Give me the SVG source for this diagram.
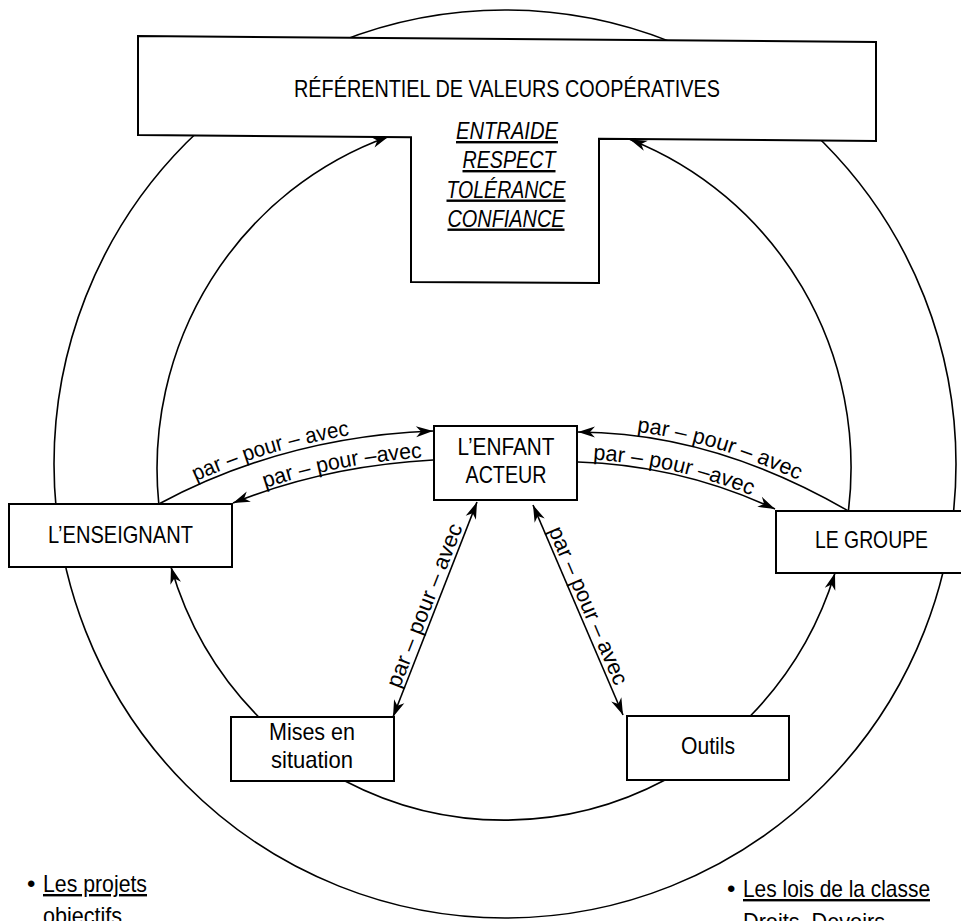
<svg xmlns="http://www.w3.org/2000/svg" width="961" height="921" viewBox="0 0 961 921">
<style>
.box{fill:#fff;stroke:#000;stroke-width:2}
.ring{fill:none;stroke:#000;stroke-width:1.6}
.con{fill:none;stroke:#000;stroke-width:1.6}
.arr{marker-end:url(#ah)}
.dbl{marker-start:url(#ah);marker-end:url(#ah)}
text{font-family:"Liberation Sans Narrow","Liberation Sans",Arial,sans-serif;fill:#000}
.lbl{font-size:22px}
.node{font-size:24px;text-anchor:middle}
.val{font-size:24px;font-style:italic;text-anchor:middle;text-decoration:underline}
.note{font-size:24px}
.ul{text-decoration:underline}
</style>
<defs>
<marker id="ah" markerUnits="userSpaceOnUse" markerWidth="20" markerHeight="14" viewBox="-18 -7 20 14" refX="0" refY="0" orient="auto-start-reverse">
<path d="M0,0 L-17,-5.5 L-12,0 L-17,5.5 Z" fill="#000"/>
</marker>
<path id="t-ll" d="M233,503 Q325,466 433,460"/>
<path id="t-ur" d="M578,432 Q713,432.5 848.4,511"/>
</defs>

<g id="rings">
<ellipse class="ring" cx="505" cy="464" rx="451" ry="454"/>
</g>

<g id="connectors">
<path id="c-ens-ref" class="con arr" d="M158.8,504 A347,352 0 0 1 388.7,136.5"/>
<path id="c-grp-ref" class="con arr" d="M848.4,511 A347,352 0 0 0 630,139.5"/>
<path id="c-mis-ens" class="con arr" d="M258.7,717 A347,352 0 0 1 171,567"/>
<path id="c-out-grp" class="con arr" d="M750.3,716 A347,352 0 0 0 835,573"/>
<path id="c-mis-out" class="con" d="M345,781 A347,352 0 0 0 665,780"/>
<path id="c-ens-enf" class="con arr" d="M158.8,504 Q284.5,436.5 433,431"/>
<path id="c-enf-ens" class="con arr" d="M433,460 Q325,466 233,503"/>
<path id="c-grp-enf" class="con arr" d="M848.4,511 Q713,432.5 578,432"/>
<path id="c-enf-grp" class="con arr" d="M578,462 Q680,465 775,509"/>
<path id="c-enf-mis" class="con dbl" d="M477,502 L393,717"/>
<path id="c-enf-out" class="con dbl" d="M533,505 L623,715"/>
<text class="lbl" dy="-4"><textPath href="#c-ens-enf" startOffset="43%" text-anchor="middle" textLength="160" lengthAdjust="spacingAndGlyphs">par – pour – avec</textPath></text>
<text class="lbl" dy="-3"><textPath href="#t-ll" startOffset="56%" text-anchor="middle" textLength="160" lengthAdjust="spacingAndGlyphs">par – pour –avec</textPath></text>
<text class="lbl" dy="-4"><textPath href="#t-ur" startOffset="50%" text-anchor="middle" textLength="168" lengthAdjust="spacingAndGlyphs">par – pour – avec</textPath></text>
<text class="lbl" dy="-3"><textPath href="#c-enf-grp" startOffset="47%" text-anchor="middle" textLength="162" lengthAdjust="spacingAndGlyphs">par – pour –avec</textPath></text>
<text class="lbl" transform="translate(435,609.5) rotate(-68.66)" x="0" y="-4" text-anchor="middle" textLength="174" lengthAdjust="spacingAndGlyphs">par – pour – avec</text>
<text class="lbl" transform="translate(578,610) rotate(66.8)" x="0" y="-4" text-anchor="middle" textLength="170" lengthAdjust="spacingAndGlyphs">par – pour – avec</text>
</g>

<g id="node-referentiel">
<polygon class="box" points="138,36 876,42 876,141 599,138.7 599,283 411,282 411,137.2 138,135"/>
<text class="node" x="507" y="97" textLength="426" lengthAdjust="spacingAndGlyphs">RÉFÉRENTIEL DE VALEURS COOPÉRATIVES</text>
<text class="val" x="507" y="139" textLength="102" lengthAdjust="spacingAndGlyphs">ENTRAIDE</text>
<text class="val" x="509" y="168" textLength="93" lengthAdjust="spacingAndGlyphs">RESPECT</text>
<text class="val" x="506" y="197.5" textLength="119" lengthAdjust="spacingAndGlyphs">TOLÉRANCE</text>
<text class="val" x="506" y="226.5" textLength="117" lengthAdjust="spacingAndGlyphs">CONFIANCE</text>
</g>

<g id="node-enseignant">
<rect class="box" x="9" y="504" width="223" height="63"/>
<text class="node" x="120.5" y="543" textLength="145" lengthAdjust="spacingAndGlyphs">L’ENSEIGNANT</text>
</g>

<g id="node-enfant">
<rect class="box" x="434" y="426" width="143" height="74"/>
<text class="node" x="506" y="455" textLength="97" lengthAdjust="spacingAndGlyphs">L’ENFANT</text>
<text class="node" x="506" y="483" textLength="81" lengthAdjust="spacingAndGlyphs">ACTEUR</text>
</g>

<g id="node-groupe">
<rect class="box" x="776" y="511" width="200" height="62"/>
<text class="node" x="871.5" y="548" textLength="113" lengthAdjust="spacingAndGlyphs">LE GROUPE</text>
</g>

<g id="node-mises">
<rect class="box" x="231" y="717" width="163" height="64"/>
<text class="node" x="312" y="740" textLength="86" lengthAdjust="spacingAndGlyphs">Mises en</text>
<text class="node" x="312" y="768" textLength="82" lengthAdjust="spacingAndGlyphs">situation</text>
</g>

<g id="node-outils">
<rect class="box" x="627" y="716" width="162" height="64"/>
<text class="node" x="708" y="754" textLength="54" lengthAdjust="spacingAndGlyphs">Outils</text>
</g>

<g id="note-projets">
<text class="note" x="27" y="892">•</text>
<text class="note ul" x="43" y="892" textLength="104" lengthAdjust="spacingAndGlyphs">Les projets</text>
<text class="note" x="43" y="924" textLength="79" lengthAdjust="spacingAndGlyphs">objectifs</text>
</g>

<g id="note-lois">
<text class="note" x="727" y="897">•</text>
<text class="note ul" x="743" y="897" textLength="187" lengthAdjust="spacingAndGlyphs">Les lois de la classe</text>
<text class="note" x="743" y="930" textLength="142" lengthAdjust="spacingAndGlyphs">Droits, Devoirs</text>
</g>
</svg>
